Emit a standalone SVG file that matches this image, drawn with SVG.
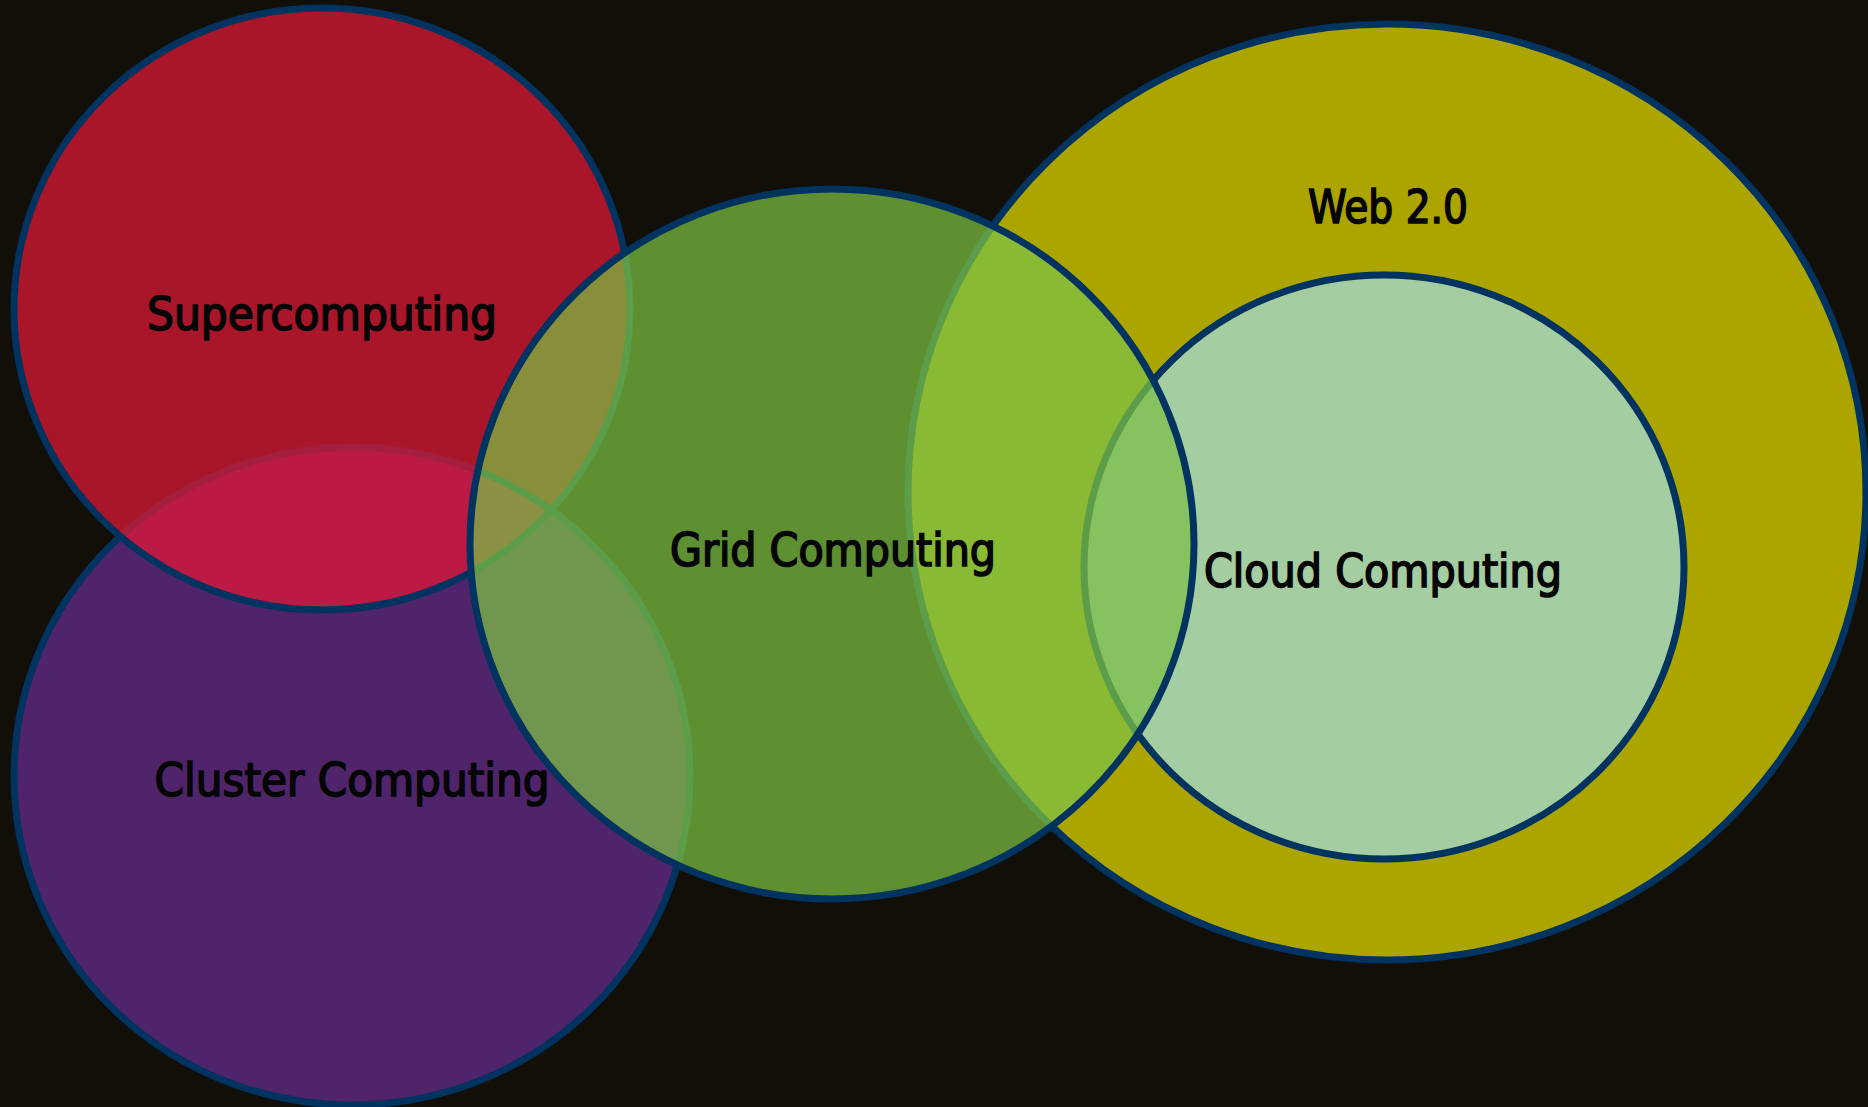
<svg xmlns="http://www.w3.org/2000/svg" width="1868" height="1107" viewBox="0 0 1868 1107">
  <style>
    .edge { fill: none; stroke: #00335F; stroke-width: 7; }
    .inner { fill: none; stroke: #5B9D48; stroke-width: 7; }
    .label { font-family: "DejaVu Sans Condensed", "DejaVu Sans", sans-serif; font-weight: normal; font-size: 46px; fill: #050505; stroke: #050505; stroke-width: 1.6; text-anchor: middle; }
  </style>
  <defs>
    <ellipse id="eSuper" cx="322" cy="309" rx="308" ry="301"/>
    <ellipse id="eCluster" cx="352" cy="776" rx="338" ry="329"/>
    <ellipse id="eGrid" cx="832" cy="544" rx="362" ry="355"/>
    <ellipse id="eWeb" cx="1387" cy="492" rx="479" ry="468"/>
    <ellipse id="eCloud" cx="1384" cy="567" rx="300" ry="292"/>
    <clipPath id="cSuper"><use href="#eSuper"/></clipPath>
    <clipPath id="cCluster"><use href="#eCluster"/></clipPath>
    <clipPath id="cGrid"><use href="#eGrid"/></clipPath>
  </defs>
  <rect width="1868" height="1107" fill="#120E08"/>

  <g id="cluster">
    <use href="#eCluster" fill="#4F246A"/>
    <use href="#eCluster" class="edge"/>
  </g>

  <g id="supercomputing">
    <use href="#eSuper" fill="#A91629"/>
    <g clip-path="url(#cSuper)">
      <use href="#eCluster" fill="#BA1A43"/>
      <use href="#eCluster" fill="none" stroke="#A31F3D" stroke-width="7"/>
    </g>
    <use href="#eSuper" class="edge"/>
  </g>

  <g id="web">
    <use href="#eWeb" fill="#ACA500"/>
    <use href="#eWeb" class="edge"/>
  </g>

  <g id="cloud">
    <use href="#eCloud" fill="#A4CDA2"/>
    <use href="#eCloud" class="edge"/>
  </g>

  <g id="grid">
    <use href="#eGrid" fill="#5E8F31"/>
    <g clip-path="url(#cGrid)">
      <use href="#eSuper" fill="#898E3B"/>
      <use href="#eCluster" fill="#71964F"/>
      <g clip-path="url(#cSuper)">
        <use href="#eCluster" fill="#8B9042"/>
      </g>
      <use href="#eWeb" fill="#8AB933"/>
      <use href="#eCloud" fill="#86C25F"/>
      <use href="#eSuper" class="inner"/>
      <use href="#eCluster" class="inner"/>
      <use href="#eWeb" class="inner"/>
      <use href="#eCloud" class="inner"/>
    </g>
    <use href="#eGrid" class="edge"/>
  </g>

  <g id="labels">
    <text class="label" x="322" y="330" textLength="350" lengthAdjust="spacingAndGlyphs">Supercomputing</text>
    <text class="label" x="352" y="796" textLength="395" lengthAdjust="spacingAndGlyphs">Cluster Computing</text>
    <text class="label" x="833" y="566" textLength="326" lengthAdjust="spacingAndGlyphs">Grid Computing</text>
    <text class="label" x="1388" y="223" textLength="160" lengthAdjust="spacingAndGlyphs">Web 2.0</text>
    <text class="label" x="1383" y="587" textLength="358" lengthAdjust="spacingAndGlyphs">Cloud Computing</text>
  </g>
</svg>
